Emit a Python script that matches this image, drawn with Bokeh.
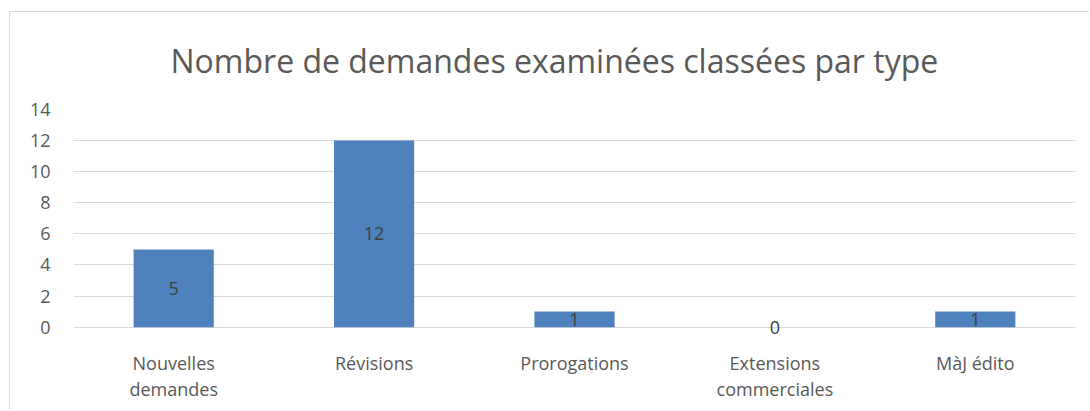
from bokeh.plotting import figure
from bokeh.models import ColumnDataSource, Range1d, FactorRange, FixedTicker, LabelSet
from bokeh.core.properties import value
from bokeh.embed import file_html
from bokeh.resources import INLINE

categories = ["Nouvelles\ndemandes", "Révisions", "Prorogations", "Extensions\ncommerciales", "MàJ édito"]
counts = [5, 12, 1, 0, 1]
y_ticks = [0, 2, 4, 6, 8, 10, 12, 14]
title_text = "Nombre de demandes examinées classées par type"

FONT = "Open Sans"
src = ColumnDataSource(dict(cat=categories, val=counts,
                            mid=[v / 2 for v in counts],
                            lab=[str(v) for v in counts]))

p = figure(width=1080, height=399, x_range=FactorRange(*categories, range_padding=0),
           y_range=Range1d(-0.6, 14), output_backend="svg", toolbar_location=None,
           min_border_left=63, min_border_right=15, min_border_top=0, min_border_bottom=75)
p.margin = (11, 0, 0, 9)
p.styles = {"border-top": "1px solid #d9d9d9", "border-left": "1px solid #d9d9d9"}
p.outline_line_color = None
p.background_fill_color = "white"
p.border_fill_color = "white"

p.title.text = title_text
p.title.text_font = FONT
p.title.text_font_size = "32px"
p.title.text_font_style = "normal"
p.title.text_color = "#595959"
p.title.align = "left"
p.title.vertical_align = "top"
p.title.offset = 97
p.title.padding = dict(top=0, bottom=0, left=0, right=0)
p.title.standoff = 52

p.vbar(x="cat", top="val", bottom=0, width=0.4, source=src, fill_color="#4F81BD", line_color=None)
labels = LabelSet(x="cat", y="mid", text="lab", source=src, text_align="center", text_baseline="middle",
                  text_font=value(FONT), text_font_size="18px", text_color="#404040")
p.add_layout(labels)

p.xaxis.axis_line_color = None
p.xaxis.major_tick_line_color = None
p.xaxis.minor_tick_line_color = None
p.xaxis.major_label_text_font = FONT
p.xaxis.major_label_text_font_size = "18px"
p.xaxis.major_label_text_color = "#595959"
p.xaxis.major_label_standoff = 8
p.xaxis.major_label_text_line_height = 1.1
p.xgrid.grid_line_color = None

p.yaxis.ticker = FixedTicker(ticks=y_ticks)
p.yaxis.axis_line_color = None
p.yaxis.major_tick_line_color = None
p.yaxis.minor_tick_line_color = None
p.yaxis.major_label_text_font = FONT
p.yaxis.major_label_text_font_size = "18px"
p.yaxis.major_label_text_color = "#595959"
p.yaxis.major_label_standoff = 17
p.ygrid.grid_line_color = "#d9d9d9"
p.ygrid.ticker = FixedTicker(ticks=y_ticks)

open("out.html", "w").write(file_html(p, INLINE))
